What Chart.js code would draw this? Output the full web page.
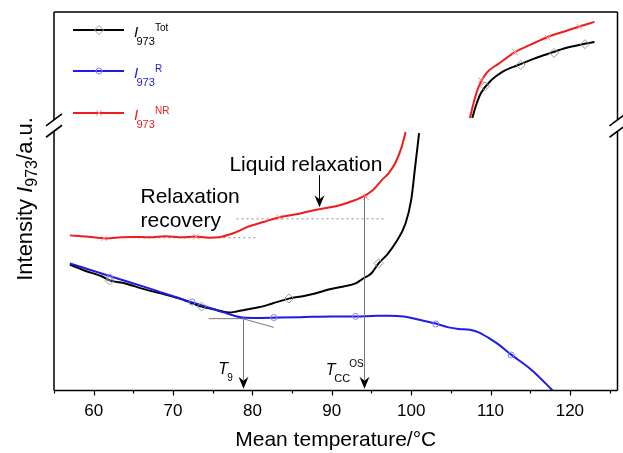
<!DOCTYPE html>
<html><head><meta charset="utf-8">
<script src="https://cdn.jsdelivr.net/npm/chart.js@4/dist/chart.umd.min.js"></script>
<style>html,body{margin:0;padding:0;background:#fff}#wrap{width:623px;height:453px}</style>
</head><body><div id="wrap"><canvas id="c" width="623" height="453"></canvas></div>
<script>
const FONT = '"Liberation Sans", Arial, Helvetica, sans-serif';

// ---- data (mean temperature in °C, intensity in arbitrary units) ----
const xTicks = [55,60,65,70,75,80,85,90,95,100,105,110,115,120,125];

const totLowT = [57.0,59.0,61.0,62.0,64.0,66.0,67.0,69.0,71.0,73.6,75.5,77.1,78.0,79.0,80.8,82.5,84.6,86.5,88.0,89.6,91.5,93.0,93.8,95.0,95.9,97.0,98.0,99.3,100.0,100.5,101.0];
const totLowI = [33.3,31.6,30.2,29.1,28.3,27.0,26.4,25.4,24.2,22.2,21.3,20.6,20.9,21.3,22.0,23.0,24.3,25.0,25.7,26.7,27.5,28.3,29.4,31.0,33.6,36.0,38.9,44.2,50.3,59.0,68.0];
const totHighT = [107.7,108.2,108.8,110.1,111.5,113.5,115.5,117.6,119.5,121.6,123.1];
const totHighI = [72.0,75.5,78.6,82.0,84.2,86.0,87.7,89.2,90.5,91.5,92.1];

const rT = [57.0,60.0,63.0,67.0,71.2,74.0,76.5,78.7,80.0,83.4,86.0,90.0,93.0,95.0,97.2,99.0,100.9,103.1,104.7,106.0,107.4,108.5,109.7,111.0,112.6,115.1,117.6,118.5];
const rI = [33.6,31.6,29.6,27.0,24.1,22.3,20.6,19.3,19.2,19.3,19.4,19.6,19.6,19.7,19.8,19.6,18.8,17.7,16.7,16.3,16.1,15.4,14.0,12.2,9.5,5.6,0.5,-1.5];

const nrLowT = [57.0,59.0,61.6,63.5,65.0,67.0,69.0,71.2,72.7,74.5,75.8,77.5,79.6,81.5,83.4,86.0,88.4,90.5,92.1,93.8,95.2,96.3,97.2,98.0,98.8,99.3];
const nrLowI = [41.0,40.7,40.2,40.5,40.6,40.5,40.8,40.5,40.7,40.4,40.5,41.5,43.4,44.6,45.8,46.8,47.9,48.7,49.7,51.1,53.0,55.6,57.5,60.1,64.3,68.3];
const nrHighT = [107.4,108.0,108.5,109.5,111.0,113.1,115.0,117.2,119.5,121.4,123.1];
const nrHighI = [72.0,77.0,80.2,83.9,86.3,89.4,91.3,93.4,95.0,96.3,97.4];

const totMarkT = [62.0,73.6,84.6,95.9,109.3,113.8,118.0,121.9];
const totMarkI = [29.1,22.2,24.3,33.6,80.4,86.0,89.2,91.5];
const rMarkT = [62.0,72.4,82.7,93.0,103.1,112.6];
const rMarkI = [29.9,23.4,19.3,19.6,17.6,9.4];
const nrMarkT = [61.3,72.9,83.4,94.3,108.8,113.1,117.2,121.2];
const nrMarkI = [40.2,40.7,45.8,51.1,82.0,89.4,93.2,96.1];

// annotation anchors (data units)
const breakLow = 68.5, breakHigh = 71.5;
const guides = [{x0:78.0, x1:96.8, y:45.5}, {x0:65.0, x1:80.6, y:40.5}];
const tangents = [{x0:74.5, y0:19.0, x1:78.8, y1:19.0}, {x0:78.8, y0:19.0, x1:82.7, y1:16.7}];
const arrows = [
  {x:88.4, y0:56.9, y1:48.4, color:'#000'},
  {x:94.0, y0:51.1, y1:0.5, color:'#777'},
  {x:78.8, y0:19.3, y1:0.5, color:'#777'}
];

const BLACK = '#000000', BLUE = '#1c1ce4', RED = '#ee1c1c';

const pts = (xs, ys) => xs.map((x, i) => ({x, y: ys[i]}));
const lineDs = (label, xs, ys, color, order) => ({
  label, data: pts(xs, ys), showLine: true, borderColor: color, borderWidth: 2,
  pointRadius: 0, fill: false, cubicInterpolationMode: 'monotone', order
});
const markDs = (label, xs, ys, style, color, r) => ({
  label, data: pts(xs, ys), showLine: false, pointStyle: style, pointRadius: r,
  pointBorderColor: color, pointBackgroundColor: 'rgba(0,0,0,0)', pointBorderWidth: 1, order: 0
});

function richText(ctx, x, y, parts) {
  let cx = x;
  for (const p of parts) {
    ctx.font = (p.italic ? 'italic ' : '') + p.size + 'px ' + FONT;
    ctx.fillStyle = p.color;
    const px = (p.dx !== undefined) ? x + p.dx : cx;
    ctx.fillText(p.t, px, y + (p.dy || 0));
    cx = px + ctx.measureText(p.t).width;
  }
}

function arrowHead(ctx, x, yt) {
  ctx.fillStyle = '#000';
  ctx.beginPath();
  ctx.moveTo(x, yt);
  ctx.lineTo(x - 5, yt - 12);
  ctx.lineTo(x, yt - 8);
  ctx.lineTo(x + 5, yt - 12);
  ctx.closePath();
  ctx.fill();
}

const decor = {
  id: 'decor',
  beforeDatasetsDraw(chart) {
    const {ctx, scales: {x, y}} = chart;
    const X = v => x.getPixelForValue(v), Y = v => y.getPixelForValue(v);
    ctx.save();
    ctx.lineWidth = 1;
    ctx.strokeStyle = '#8c8c8c';
    ctx.setLineDash([2, 3]);
    for (const g of guides) {
      ctx.beginPath(); ctx.moveTo(X(g.x0), Y(g.y) + 0.5); ctx.lineTo(X(g.x1), Y(g.y) + 0.5); ctx.stroke();
    }
    ctx.setLineDash([]);
    ctx.strokeStyle = '#777';
    for (const t of tangents) {
      ctx.beginPath(); ctx.moveTo(X(t.x0), Y(t.y0)); ctx.lineTo(X(t.x1), Y(t.y1)); ctx.stroke();
    }
    ctx.restore();
  },
  afterDatasetsDraw(chart) {
    const {ctx, chartArea: a, scales: {x, y}} = chart;
    const X = v => x.getPixelForValue(v), Y = v => y.getPixelForValue(v);
    ctx.save();
    // arrows
    for (const ar of arrows) {
      const px = Math.round(X(ar.x)) + 0.5, yt = Y(ar.y1);
      ctx.strokeStyle = ar.color; ctx.lineWidth = 1;
      ctx.beginPath(); ctx.moveTo(px, Y(ar.y0)); ctx.lineTo(px, yt - 8); ctx.stroke();
      arrowHead(ctx, px, yt);
    }
    // annotation texts
    ctx.textBaseline = 'alphabetic'; ctx.textAlign = 'left';
    ctx.fillStyle = '#000'; ctx.font = '21px ' + FONT;
    ctx.fillText('Liquid relaxation', X(77.1), Y(57.9));
    ctx.fillText('Relaxation', X(65.9), Y(49.5));
    ctx.fillText('recovery', X(65.9), Y(43.2));
    richText(ctx, X(75.7), Y(4.5), [
      {t:'T', size:16, italic:true, color:'#000'},
      {t:'9', size:10, color:'#000', dx:9, dy:7}
    ]);
    richText(ctx, X(89.25), Y(4.0), [
      {t:'T', size:16, italic:true, color:'#000'},
      {t:'CC', size:11, color:'#000', dx:8.5, dy:7},
      {t:'OS', size:10, color:'#000', dx:23.5, dy:-8}
    ]);

    // legend
    const rows = [
      {sup:'Tot', color:'#000', mark:'rectRot', mc:'#999', r:4.5, ly:30},
      {sup:'R', color:BLUE, mark:'circle', mc:'#8080ff', r:3, ly:71},
      {sup:'NR', color:RED, mark:'crossRot', mc:'#ff8a8a', r:4, ly:113}
    ];
    for (const r of rows) {
      ctx.strokeStyle = r.color; ctx.lineWidth = 2;
      ctx.beginPath(); ctx.moveTo(73, r.ly); ctx.lineTo(124, r.ly); ctx.stroke();
      ctx.strokeStyle = r.mc; ctx.fillStyle = 'rgba(0,0,0,0)'; ctx.lineWidth = 1;
      Chart.helpers.drawPoint(ctx, {pointStyle: r.mark, radius: r.r, rotation: 0, borderWidth: 1}, 99, r.ly);
      richText(ctx, 134, r.ly + 7, [
        {t:'I', size:15, italic:true, color:r.color},
        {t:'973', size:11, color:r.color, dx:2.5, dy:8},
        {t:r.sup, size:10, color:r.color, dx:21, dy:-6}
      ]);
    }

    // frame with broken y axis
    const yb1 = Y(breakHigh), yb2 = Y(breakLow);
    ctx.strokeStyle = '#000'; ctx.lineWidth = 1.5;
    ctx.beginPath();
    ctx.moveTo(a.left, a.top); ctx.lineTo(a.right, a.top);
    ctx.moveTo(a.left, a.bottom); ctx.lineTo(a.right, a.bottom);
    for (const ax of [a.left, a.right]) {
      ctx.moveTo(ax, a.top); ctx.lineTo(ax, yb1);
      ctx.moveTo(ax, yb2); ctx.lineTo(ax, a.bottom);
    }
    ctx.stroke();
    ctx.lineWidth = 1.6;
    ctx.beginPath();
    for (const ax of [a.left, a.right]) {
      for (const yy of [yb1, yb2]) {
        ctx.moveTo(ax - 8, yy + 6); ctx.lineTo(ax + 8, yy - 6);
      }
    }
    ctx.stroke();
    // x tick marks (major and minor)
    ctx.lineWidth = 1.2;
    ctx.beginPath();
    for (const v of xTicks) {
      const px = Math.round(X(v)) + 0.5;
      ctx.moveTo(px, a.bottom); ctx.lineTo(px, a.bottom + (v % 10 === 0 ? 5 : 3));
    }
    ctx.stroke();

    // y axis title (rotated)
    ctx.save();
    ctx.translate(32, 199);
    ctx.rotate(-Math.PI / 2);
    const parts = [
      {t:'Intensity ', size:22, italic:false},
      {t:'I', size:22, italic:true},
      {t:'973', size:16, italic:false, dy:5},
      {t:'/a.u.', size:22, italic:false}
    ];
    let total = 0;
    for (const p of parts) { ctx.font = (p.italic ? 'italic ' : '') + p.size + 'px ' + FONT; total += ctx.measureText(p.t).width; }
    let cx = -total / 2;
    ctx.fillStyle = '#000';
    for (const p of parts) {
      ctx.font = (p.italic ? 'italic ' : '') + p.size + 'px ' + FONT;
      ctx.fillText(p.t, cx, p.dy || 0);
      cx += ctx.measureText(p.t).width;
    }
    ctx.restore();
    ctx.restore();
  }
};

Chart.defaults.font.family = FONT;
new Chart(document.getElementById('c').getContext('2d'), {
  type: 'scatter',
  data: {
    datasets: [
      markDs('I973 Tot markers', totMarkT, totMarkI, 'rectRot', '#999999', 4.5),
      markDs('I973 R markers', rMarkT, rMarkI, 'circle', '#8080ff', 3),
      markDs('I973 NR markers', nrMarkT, nrMarkI, 'crossRot', '#ff8a8a', 4),
      lineDs('I973 R', rT, rI, BLUE, 1),
      lineDs('I973 Tot', totLowT, totLowI, BLACK, 2),
      lineDs('I973 Tot (high)', totHighT, totHighI, BLACK, 2),
      lineDs('I973 NR', nrLowT, nrLowI, RED, 2),
      lineDs('I973 NR (high)', nrHighT, nrHighI, RED, 2)
    ]
  },
  options: {
    responsive: false, animation: false, devicePixelRatio: 1,
    layout: {padding: {left: 54, right: 3, top: 12, bottom: 0}},
    plugins: {legend: {display: false}, tooltip: {enabled: false}},
    scales: {
      x: {
        type: 'linear', min: 55, max: 126,
        afterBuildTicks: s => { s.ticks = xTicks.map(v => ({value: v})); },
        grid: {display: false, drawTicks: false},
        border: {display: false},
        ticks: {autoSkip: false, maxRotation: 0, padding: 11, color: '#000', font: {size: 17},
                callback: v => (v % 10 === 0 ? String(v) : '')},
        title: {display: true, text: 'Mean temperature/°C', color: '#000', font: {size: 21}, padding: {top: -5.2, bottom: 0}}
      },
      y: {type: 'linear', min: 0, max: 100, display: false}
    }
  },
  plugins: [decor]
});
</script></body></html>
